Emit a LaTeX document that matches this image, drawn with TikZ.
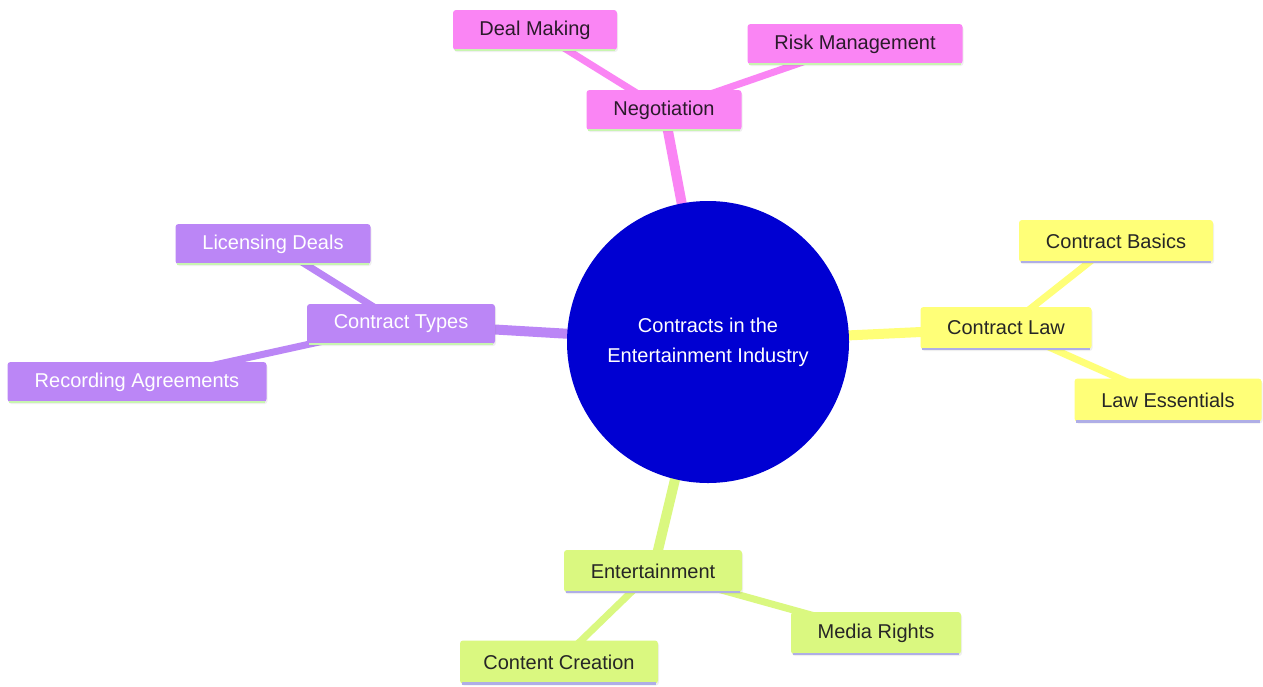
\documentclass[tikz,border=0pt]{standalone}
\usepackage{fontspec}
\setmainfont{Liberation Sans}
\usetikzlibrary{shadows}
\definecolor{pinkc}{HTML}{FA85F4}
\definecolor{purpc}{HTML}{BB86F6}
\definecolor{yelc}{HTML}{FFFF78}
\definecolor{grnc}{HTML}{DAF880}
\definecolor{bluec}{HTML}{0000D2}
\definecolor{lgreen}{HTML}{C8F5B0}
\definecolor{lav}{HTML}{AFAEE6}
\definecolor{darkt}{HTML}{2A1A2A}
\tikzset{
  box/.style={rectangle, rounded corners=3pt, inner sep=0pt, font=\fontsize{20}{24}\selectfont,
    drop shadow={shadow xshift=1pt, shadow yshift=-2pt, opacity=0.12}},
  pinkbox/.style={box, fill=pinkc, text=darkt},
  purpbox/.style={box, fill=purpc, text=white},
  yelbox/.style={box, fill=yelc, text=black!85},
  grnbox/.style={box, fill=grnc, text=black!85},
  mainedge/.style={line width=10pt},
  subedge/.style={line width=7pt},
  gline/.style={draw=lgreen, line width=2.5pt},
  lline/.style={draw=lav, line width=2.5pt},
}
\begin{document}
\begin{tikzpicture}[x=1pt,y=-1pt]
\useasboundingbox (0,0) rectangle (1263,686);
\fill[white] (0,0) rectangle (1263,686);
% coordinates
\coordinate (cc) at (708,342);
% edges first
\coordinate (pNeg) at (664,110);
\coordinate (pDeal) at (535,30);
\coordinate (pRisk) at (855,44);
\coordinate (pCT) at (401,324);
\coordinate (pLic) at (273,244);
\coordinate (pRec) at (137,382);
\coordinate (pCL) at (1006,328);
\coordinate (pCB) at (1116,241);
\coordinate (pLE) at (1168,400);
\coordinate (pEnt) at (653,571);
\coordinate (pMR) at (876,633);
\coordinate (pCC) at (559,662);
\draw[mainedge, pinkc] (cc) -- (pNeg);
\draw[subedge, pinkc] (pNeg) -- (pDeal);
\draw[subedge, pinkc] (pNeg) -- (pRisk);
\draw[mainedge, purpc] (cc) -- (pCT);
\draw[subedge, purpc] (pCT) -- (pLic);
\draw[subedge, purpc] (pCT) -- (pRec);
\draw[mainedge, yelc] (cc) -- (pCL);
\draw[subedge, yelc] (pCL) -- (pCB);
\draw[subedge, yelc] (pCL) -- (pLE);
\draw[mainedge, grnc] (cc) -- (pEnt);
\draw[subedge, grnc] (pEnt) -- (pMR);
\draw[subedge, grnc] (pEnt) -- (pCC);
% center
\node[circle, fill=bluec, minimum size=282pt, inner sep=0pt, text=white, align=center,
  font=\fontsize{20}{30}\selectfont] (root) at (cc) {Contracts in the\\Entertainment Industry};
% nodes
\node[pinkbox, minimum width=164pt, minimum height=40pt] (deal) at (pDeal) {Deal Making};
\node[pinkbox, minimum width=215pt, minimum height=40pt] (risk) at (pRisk) {Risk Management};
\node[pinkbox, minimum width=155pt, minimum height=40pt] (neg) at (pNeg) {Negotiation};
\node[purpbox, minimum width=195pt, minimum height=40pt] (lic) at (pLic) {Licensing Deals};
\node[purpbox, minimum width=188pt, minimum height=40pt] (ct) at (pCT) {Contract Types};
\node[purpbox, minimum width=259pt, minimum height=40pt] (rec) at (pRec) {Recording Agreements};
\node[yelbox, minimum width=194pt, minimum height=42pt] (cb) at (pCB) {Contract Basics};
\node[yelbox, minimum width=171pt, minimum height=42pt] (cl) at (pCL) {Contract Law};
\node[yelbox, minimum width=187pt, minimum height=43pt] (le) at (pLE) {Law Essentials};
\node[grnbox, minimum width=178pt, minimum height=42pt] (ent) at (pEnt) {Entertainment};
\node[grnbox, minimum width=170pt, minimum height=42pt] (mr) at (pMR) {Media Rights};
\node[grnbox, minimum width=198pt, minimum height=43pt] (ccr) at (pCC) {Content Creation};
% bottom borders
\foreach \n in {deal,risk,neg,lic,ct,rec} {
  \draw[gline] ([xshift=2pt]\n.south west) -- ([xshift=-2pt]\n.south east);
}
\foreach \n in {cb,cl,le,ent,mr,ccr} {
  \draw[lline] ([xshift=2pt]\n.south west) -- ([xshift=-2pt]\n.south east);
}
\end{tikzpicture}
\end{document}
